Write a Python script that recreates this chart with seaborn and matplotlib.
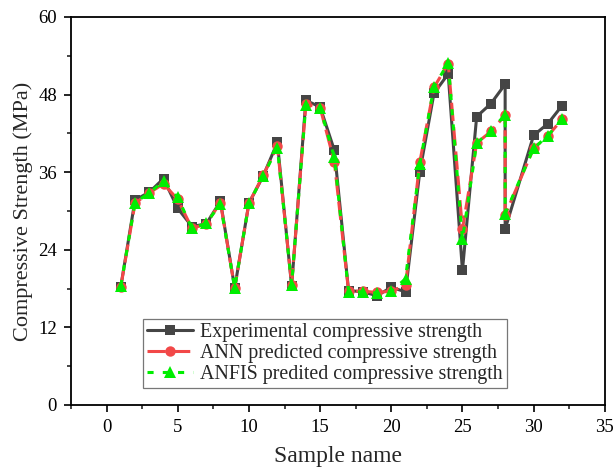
import matplotlib
matplotlib.use("Agg")
import matplotlib.pyplot as plt
import seaborn as sns
import pandas as pd
from matplotlib.ticker import MultipleLocator

samples = [1, 2, 3, 4, 5, 6, 7, 8, 9, 10, 11, 12, 13, 14, 15, 16, 17, 18, 19, 20,
           21, 22, 23, 24, 25, 26, 27, 28, 28, 30, 31, 32]
experimental = [18.3, 31.7, 32.9, 35.0, 30.4, 27.6, 28.0, 31.5, 18.1, 31.2, 35.4, 40.6,
                18.4, 47.1, 46.1, 39.4, 17.7, 17.5, 16.9, 18.2, 17.5, 36.0, 48.2, 51.2,
                20.8, 44.6, 46.6, 49.6, 27.2, 41.7, 43.5, 46.3]
ann = [18.3, 31.2, 32.8, 34.2, 31.8, 27.3, 28.0, 31.3, 18.1, 31.2, 35.5, 40.0,
       18.6, 46.5, 46.0, 37.6, 17.6, 17.6, 17.4, 17.6, 18.5, 37.5, 49.1, 52.8,
       27.2, 40.5, 42.3, 44.8, 29.4, 39.7, 41.6, 44.2]
anfis = [18.4, 31.3, 32.8, 34.6, 32.1, 27.3, 28.1, 31.1, 18.1, 31.2, 35.4, 39.8,
         18.6, 46.4, 46.0, 38.3, 17.5, 17.5, 17.3, 17.6, 19.5, 37.2, 49.2, 52.9,
         25.6, 40.5, 42.4, 44.9, 29.6, 39.7, 41.6, 44.3]
labels = ["Experimental compressive strength",
          "ANN predicted compressive strength",
          "ANFIS predited compressive strength"]

sns.set_theme(style="ticks")
plt.rcParams['font.family'] = ['Liberation Serif', 'DejaVu Serif']

fig = plt.figure(figsize=(6.14, 4.67), dpi=100)
ax = fig.add_axes([0.1156, 0.1328, 0.8694, 0.8308])

df = pd.DataFrame({"x": samples, "exp": experimental, "ann": ann, "anfis": anfis})

sns.lineplot(data=df, x="x", y="exp", ax=ax, sort=False, estimator=None,
             color="#454545", lw=2.2, marker="s", markersize=7, markeredgewidth=0,
             label=labels[0])
sns.lineplot(data=df, x="x", y="ann", ax=ax, sort=False, estimator=None,
             color="#f24848", lw=2.2, marker="o", markersize=7.5, markeredgewidth=0,
             linestyle=(0, (6, 2)), label=labels[1])
sns.lineplot(data=df, x="x", y="anfis", ax=ax, sort=False, estimator=None,
             color="#00ee00", lw=2.2, marker="^", markersize=8.5, markeredgewidth=0,
             linestyle=(0, (2, 3)), label=labels[2])

ax.set_xlim(-2.5, 35)
ax.set_ylim(0, 60)
ax.xaxis.set_major_locator(MultipleLocator(5))
ax.xaxis.set_minor_locator(MultipleLocator(2.5))
ax.yaxis.set_major_locator(MultipleLocator(12))
ax.yaxis.set_minor_locator(MultipleLocator(6))
ax.tick_params(axis="both", which="major", direction="out", length=5, width=1.2,
               labelsize=13.5, colors="black", pad=5)
ax.tick_params(axis="both", which="minor", direction="out", length=3, width=1.2)
for s in ax.spines.values():
    s.set_linewidth(1.3)
    s.set_color("black")
ax.set_xlabel("Sample name", fontsize=17, labelpad=7)
ax.set_ylabel("Compressive Strength (MPa)", fontsize=16, labelpad=4)

leg = ax.legend(loc="lower left", bbox_to_anchor=(0.135, 0.045), fontsize=14.4,
                frameon=True, fancybox=False, edgecolor="#555555",
                handlelength=2.3, borderpad=0.2, labelspacing=0.1,
                handletextpad=0.35, borderaxespad=0)
leg.get_frame().set_linewidth(0.9)

fig.savefig("out.png", dpi=100)
